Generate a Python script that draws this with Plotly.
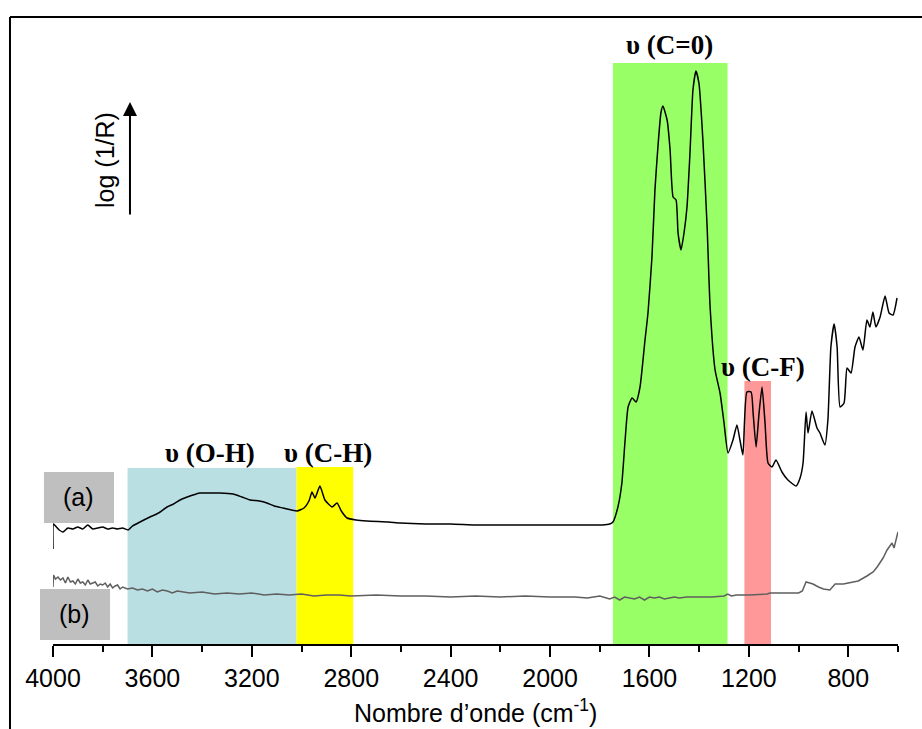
import plotly.graph_objects as go

# ---- data (wavenumber in cm-1, log(1/R) in arbitrary units) ----
wn_a = [4000, 3998, 3990, 3975, 3960, 3940, 3920, 3900, 3880, 3860,
        3840, 3820, 3800, 3780, 3760, 3740, 3720, 3698, 3680, 3650,
        3610, 3575, 3541, 3515, 3489, 3460, 3437, 3410, 3380, 3330,
        3276, 3240, 3207, 3170, 3139, 3110, 3075, 3040, 3018, 2990,
        2970, 2958, 2946, 2926, 2906, 2877, 2857, 2840, 2817, 2780,
        2737, 2650, 2604, 2500, 2400, 2300, 2200, 2100, 2000, 1900,
        1850, 1790, 1760, 1747, 1727, 1711, 1698, 1686, 1670, 1654,
        1638, 1618, 1606, 1590, 1578, 1566, 1554, 1546, 1529, 1517,
        1505, 1493, 1485, 1473, 1461, 1449, 1437, 1425, 1413, 1401,
        1385, 1368, 1356, 1336, 1316, 1300, 1284, 1264, 1248, 1236,
        1224, 1208, 1191, 1183, 1171, 1159, 1147, 1135, 1123, 1107,
        1091, 1067, 1043, 1010, 994, 982, 970, 962, 946, 926,
        914, 894, 882, 870, 857, 845, 833, 817, 805, 789,
        773, 757, 741, 725, 713, 701, 689, 672, 652, 636,
        620, 604]
abs_a = [95, 120, 118, 114, 112, 116, 115, 117, 115, 119,
         115, 116, 117, 115, 116, 115, 116, 114, 118, 122,
         127, 131, 137, 140, 144, 147, 149, 151, 151, 151,
         150, 147, 144, 143, 141, 138, 136, 134, 133, 136,
         143, 152, 146, 158, 144, 137, 141, 133, 126, 124,
         123, 122, 121, 120, 120, 119, 119, 119, 119, 119,
         119, 119, 120, 122, 137, 161, 204, 237, 246, 242,
         257, 304, 331, 387, 454, 497, 531, 538, 524, 494,
         447, 444, 411, 394, 411, 437, 491, 554, 573, 561,
         504, 417, 337, 274, 251, 221, 191, 204, 219, 204,
         189, 252, 252, 231, 197, 231, 257, 221, 181, 177,
         184, 172, 164, 158, 166, 181, 232, 211, 233, 216,
         211, 199, 224, 297, 320, 297, 237, 241, 276, 271,
         297, 307, 294, 324, 317, 332, 317, 327, 348, 331,
         329, 346]

wn_b = [4000, 3998, 3990, 3980, 3970, 3960, 3950, 3940, 3930, 3920,
        3910, 3900, 3890, 3880, 3870, 3860, 3850, 3840, 3830, 3820,
        3810, 3800, 3790, 3780, 3770, 3760, 3750, 3740, 3730, 3720,
        3710, 3700, 3680, 3660, 3640, 3620, 3600, 3580, 3560, 3540,
        3520, 3500, 3450, 3400, 3350, 3300, 3250, 3200, 3150, 3100,
        3050, 3000, 2950, 2900, 2850, 2800, 2700, 2600, 2500, 2400,
        2300, 2200, 2100, 2000, 1900, 1850, 1800, 1760, 1740, 1720,
        1700, 1680, 1660, 1640, 1620, 1600, 1580, 1560, 1540, 1520,
        1500, 1480, 1450, 1400, 1350, 1300, 1285, 1270, 1250, 1200,
        1150, 1127, 1115, 1050, 1000, 985, 970, 955, 942, 920,
        900, 874, 853, 820, 781, 760, 725, 700, 684, 660,
        644, 630, 624, 616, 608, 600]
abs_b = [57, 69, 65, 67, 64, 66, 61, 67, 62, 63,
         60, 65, 61, 62, 59, 64, 60, 61, 62, 58,
         60, 59, 61, 57, 60, 56, 58, 59, 55, 57,
         56, 55, 56, 54, 55, 53, 55, 52, 54, 53,
         51, 53, 51, 52, 50, 51, 50, 51, 49, 50,
         49, 50, 48, 49, 49, 48, 49, 48, 48, 47,
         48, 47, 48, 47, 47, 46, 48, 45, 47, 44,
         47, 46, 45, 47, 44, 47, 46, 47, 45, 46,
         47, 46, 47, 47, 47, 48, 50, 48, 49, 49,
         50, 50, 51, 51, 51, 53, 62, 61, 60, 57,
         55, 54, 60, 60, 62, 63, 68, 72, 77, 86,
         94, 99, 101, 96, 104, 112]

# highlighted bands
band_labels = ["υ (O-H)", "υ (C-H)", "υ (C=0)", "υ (C-F)"]
band_start = [3700, 3020, 1747, 1218]
band_end = [3020, 2792, 1286, 1111]
band_top = [176, 177, 581, 263]
band_colors = ["#B9DFE3", "#FFFF00", "#99FF66", "#FF9999"]
label_x = [3368, 2893, 1521, 1143]
label_y = [191, 191, 599, 277]

tick_vals = [4000, 3600, 3200, 2800, 2400, 2000, 1600, 1200, 800]
tick_text = [str(v) for v in tick_vals]
minor_vals = [3800, 3400, 3000, 2600, 2200, 1800, 1400, 1000, 600]

fig = go.Figure()

fig.add_trace(go.Scatter(x=wn_a, y=abs_a, mode="lines",
                         line=dict(color="#000000", width=1.5, shape="spline", smoothing=0.5),
                         showlegend=False))
fig.add_trace(go.Scatter(x=wn_b, y=abs_b, mode="lines",
                         line=dict(color="#5f5f5f", width=1.5), showlegend=False))

shapes = []
for s, e, t, c in zip(band_start, band_end, band_top, band_colors):
    shapes.append(dict(type="rect", xref="x", yref="y", x0=s, x1=e, y0=0, y1=t,
                       fillcolor=c, line=dict(width=0), layer="below"))

# grey sample boxes
shapes.append(dict(type="rect", xref="paper", yref="y", x0=-0.0107, x1=0.0722,
                   y0=121, y1=172, fillcolor="#BFBFBF", line=dict(width=0), layer="below"))
shapes.append(dict(type="rect", xref="paper", yref="y", x0=-0.0154, x1=0.0675,
                   y0=4, y1=55, fillcolor="#BFBFBF", line=dict(width=0), layer="below"))

# outer frame (left and top)
shapes.append(dict(type="line", xref="paper", yref="paper", x0=-0.0509, x1=-0.0509,
                   y0=1, y1=-0.14, line=dict(color="black", width=2)))
shapes.append(dict(type="line", xref="paper", yref="paper", x0=-0.0509, x1=1.03,
                   y0=1, y1=1, line=dict(color="black", width=2)))

annotations = []
for lab, lx, ly in zip(band_labels, label_x, label_y):
    annotations.append(dict(x=lx, y=ly, xref="x", yref="y", text="<b>" + lab + "</b>",
                            showarrow=False, xanchor="center", yanchor="middle",
                            font=dict(family="Liberation Serif", size=27, color="black")))

annotations.append(dict(x=0.030, y=147, xref="paper", yref="y", text="(a)", showarrow=False,
                        xanchor="center", yanchor="middle",
                        font=dict(family="Liberation Sans", size=25, color="black")))
annotations.append(dict(x=0.026, y=30, xref="paper", yref="y", text="(b)", showarrow=False,
                        xanchor="center", yanchor="middle",
                        font=dict(family="Liberation Sans", size=25, color="black")))

annotations.append(dict(x=0.0615, y=484, xref="paper", yref="y", text="log (1/R)", textangle=-90,
                        showarrow=False, xanchor="center", yanchor="middle",
                        font=dict(family="Liberation Sans", size=25, color="black")))
annotations.append(dict(x=0.0911, y=542, xref="paper", yref="y", text="", showarrow=True,
                        ax=0, ay=114, arrowhead=2, arrowsize=1.4, arrowwidth=2,
                        arrowcolor="black"))

annotations.append(dict(x=0.5, y=-0.107, xref="paper", yref="paper",
                        text="Nombre d’onde (cm<sup>-1</sup>)", showarrow=False,
                        xanchor="center", yanchor="middle",
                        font=dict(family="Liberation Sans", size=25, color="black")))

fig.update_layout(
    width=922, height=729,
    margin=dict(l=53, r=24, t=17, b=85),
    paper_bgcolor="white", plot_bgcolor="white",
    shapes=shapes, annotations=annotations,
    xaxis=dict(range=[4000, 600], showgrid=False, zeroline=False,
               showline=True, linecolor="black", linewidth=2,
               ticks="outside", ticklen=11, tickwidth=2, tickcolor="black",
               tickvals=tick_vals, ticktext=tick_text,
               minor=dict(ticks="outside", ticklen=6, tickwidth=2, tickcolor="black",
                          tickvals=minor_vals),
               tickfont=dict(family="Liberation Sans", size=25, color="black")),
    yaxis=dict(range=[0, 627], visible=False),
)

fig.write_html("out.html", config={"displayModeBar": False},
               post_script="document.body.style.margin='0px';")
